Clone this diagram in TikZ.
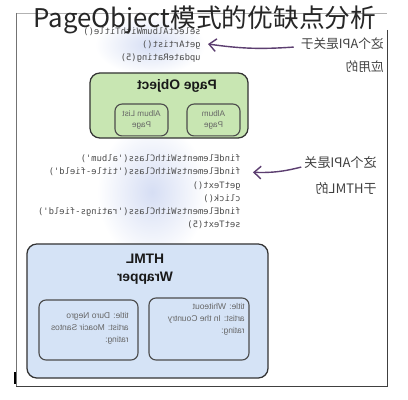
\documentclass[tikz,border=0pt]{standalone}
\usepackage{fontspec}
\usepackage{graphicx}
\setmainfont{Liberation Sans}
\newfontfamily\cjkfont{Noto Sans CJK SC}
\newfontfamily\codefont{DejaVu Sans Mono}
\usetikzlibrary{arrows.meta}
\usetikzlibrary{positioning}
\definecolor{pagegreen}{RGB}{200,230,178}
\definecolor{wrapblue}{RGB}{213,227,246}
\definecolor{glow}{RGB}{214,222,244}
\definecolor{arrowink}{RGB}{92,62,112}
\newcommand{\mirror}[1]{\reflectbox{#1}}
\newcommand{\rows}[1]{\begin{tabular}{@{}l@{}}#1\end{tabular}}
\newcommand{\crows}[1]{\begin{tabular}{@{}c@{}}#1\end{tabular}}
\newcommand{\q}{\textquotesingle}

\begin{document}
\begin{tikzpicture}[
  x=0.025cm, y=-0.025cm,
  frame/.style = {line width=0.7pt},
  code/.style = {inner sep=0pt, text=black!70, font=\codefont\fontsize{6.3}{9.3}\selectfont},
  note/.style = {inner sep=0pt, text=black!75, font=\cjkfont\fontsize{9}{16.4}\selectfont},
  box/.style = {draw=black!80, line width=0.9pt, rounded corners=7pt},
  inner/.style = {draw=black!70, line width=0.8pt, rounded corners=5pt},
  boxtitle/.style = {inner sep=0pt, text=black!90, font=\bfseries\fontsize{9.8}{12.8}\selectfont},
  boxtext/.style = {inner sep=0pt, text=black!60, font=\fontsize{6}{8.5}\selectfont},
  pointer/.style = {draw=arrowink, line width=1pt, -{Straight Barb[length=5pt,width=9pt]}},
]

  \useasboundingbox (0,0) rectangle (408,400);
  \fill[white] (0,0) rectangle (408,400);

  % soft glow behind the code
  \shade[inner color=glow, outer color=white] (152,192) ellipse [x radius=55, y radius=70];
  \shade[inner color=glow, outer color=white] (150,45) ellipse [x radius=55, y radius=30];

  \draw[frame, black!30] (16,13) -- (387,13);
  \draw[frame, black!55] (16,13) -- (16,386);
  \draw[frame, black!75] (387,30) -- (387,386) -- (16,386);
  \draw[line width=1.2pt] (15,372) -- (15,384);

  \node[code, anchor=east] (codeapp) at (201,45)
    {\mirror{\rows{selectAlbumWithTitle()\\ getArtist()\\ updateRating(5)}}};
  \node[code, anchor=east] (codehtml) at (241,192)
    {\mirror{\rows{findElementsWithClass(\q album\q)\\ findElementsWithClass(\q title-field\q)\\ getText()\\ click()\\ findElementsWithClass(\q ratings-field\q)\\ setText(5)}}};

  \node[note, anchor=east] (noteapp) at (384,55.5) {\mirror{\rows{这个API是关于\\ 应用的}}};
  \node[note, anchor=east, font=\cjkfont\fontsize{9.3}{17.8}\selectfont] (notehtml) at (377,175.5)
    {\mirror{\rows{这个API是关\\ 于HTML的}}};

  \node[box, fill=pagegreen, minimum width=3.95cm, minimum height=1.625cm] (pageobj) at (169,105.5) {};
  \node[boxtitle] (pagetitle) at (177,86) {\mirror{Page Object}};
  \node[inner, fill=pagegreen, text=black!60, font=\fontsize{5.8}{8}\selectfont,
        minimum width=1.325cm, minimum height=0.75cm] (albumlist) at (141.5,120)
    {\mirror{\crows{Album List\\ Page}}};
  \node[inner, fill=pagegreen, text=black!60, font=\fontsize{5.8}{8}\selectfont,
        minimum width=1.325cm, minimum height=0.75cm] (album) at (213.5,120)
    {\mirror{\crows{Album\\ Page}}};

  \node[box, fill=wrapblue, minimum width=6.025cm, minimum height=3.35cm] (wrapper) at (147.5,311) {};
  \node[boxtitle] (wraptitle) at (145,269) {\mirror{\crows{HTML\\ Wrapper}}};
  \node[inner, fill=wrapblue, minimum width=2.475cm, minimum height=1.5cm] (duro) at (88.5,330) {};
  \node[boxtext, anchor=east] (durotext) at (129,328)
    {\mirror{\rows{title: Duro Negro\\ artist: Moacir Santos\\ rating:}}};
  \node[inner, fill=wrapblue, minimum width=2.5cm, minimum height=1.55cm] (whiteout) at (199,329) {};
  \node[boxtext, anchor=north east] (whiteouttext) at (245,301)
    {\mirror{\rows{title: Whiteout\\ artist: In the Country\\ rating:}}};

  \draw[pointer] ([xshift=-5pt,yshift=6pt]noteapp.west) to[bend left=6] ([xshift=5pt,yshift=0.7pt]codeapp.east);
  \draw[pointer] ([xshift=-2pt,yshift=6pt]notehtml.west) to[bend left=8] ([xshift=8.5pt,yshift=14pt]codehtml.east);

  \node[inner sep=0pt, text=black!85, font=\cjkfont\fontsize{18.3}{20}\selectfont] (title) at (205,20)
    {PageObject模式的优缺点分析};

\end{tikzpicture}
\end{document}
